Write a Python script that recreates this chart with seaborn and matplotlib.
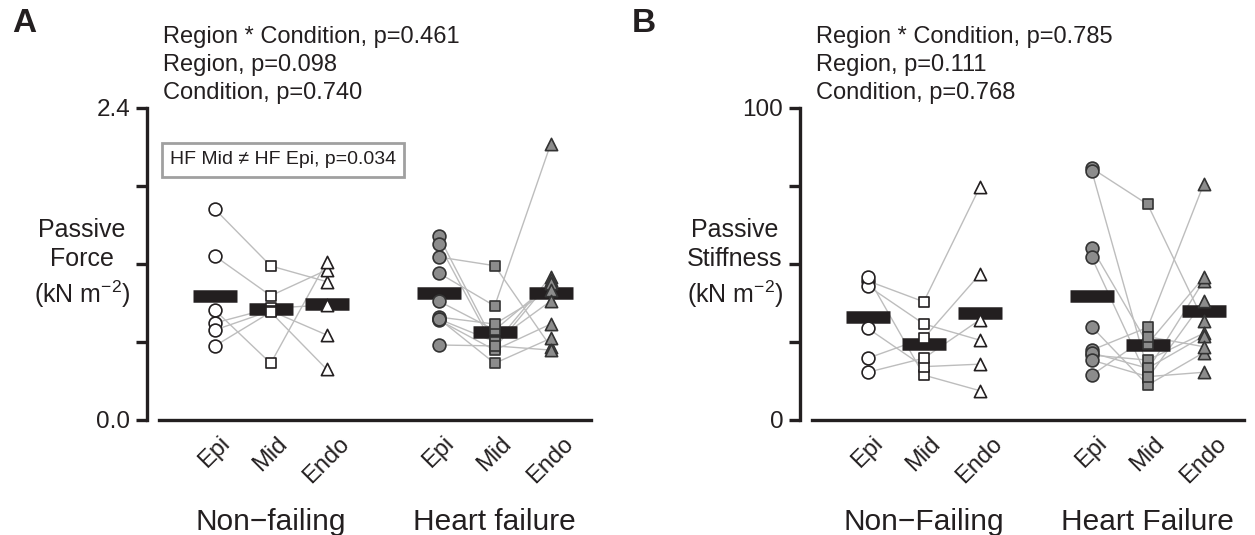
import numpy as np
import pandas as pd
import matplotlib
matplotlib.use("Agg")
import matplotlib.pyplot as plt
import seaborn as sns

# ---------------- data ----------------
regions = ["Epi", "Mid", "Endo"]
groups_A = ["Non\u2212failing", "Heart failure"]
groups_B = ["Non\u2212Failing", "Heart Failure"]

force_nf_epi = [1.623, 1.262, 0.846, 0.746, 0.692, 0.569]
force_nf_mid = [1.185, 0.956, 0.436, 0.860, 0.840, 0.830]
force_nf_endo = [1.064, 1.154, 1.218, 0.885, 0.654, 0.390]
force_hf_epi = [1.415, 1.354, 1.254, 1.131, 0.915, 0.792, 0.777, 0.769, 0.780, 0.577]
force_hf_mid = [0.585, 0.552, 1.187, 0.877, 0.692, 0.738, 0.602, 0.538, 0.436, 0.570]
force_hf_endo = [1.102, 1.077, 0.564, 2.123, 1.052, 1.000, 0.915, 0.738, 0.628, 0.538]

stiff_nf_epi = [44.6, 43.0, 45.9, 29.4, 19.8, 15.3]
stiff_nf_mid = [37.9, 30.8, 14.4, 17.1, 26.2, 19.8]
stiff_nf_endo = [74.6, 25.6, 9.4, 17.9, 46.7, 32.1]
stiff_hf_epi = [80.7, 79.9, 55.2, 52.1, 29.9, 22.4, 20.8, 21.5, 19.2, 14.4]
stiff_hf_mid = [69.1, 16.0, 24.4, 13.4, 11.2, 29.7, 19.2, 16.6, 13.9, 26.7]
stiff_hf_endo = [31.7, 44.6, 45.7, 38.2, 21.6, 75.6, 27.8, 26.9, 15.3, 23.5]

stats_A = ["Region * Condition, p=0.461", "Region, p=0.098", "Condition, p=0.740"]
stats_B = ["Region * Condition, p=0.785", "Region, p=0.111", "Condition, p=0.768"]
posthoc_A = "HF Mid \u2260 HF Epi, p=0.034"


def build(nf, hf):
    rows = []
    for ci, (cond, sets) in enumerate([("NF", nf), ("HF", hf)]):
        for ri, reg in enumerate(regions):
            for si, v in enumerate(sets[ri]):
                rows.append(dict(cond=cond, region=reg, subject=f"{cond}{si}",
                                 pos=ci * 4 + ri, value=v))
    return pd.DataFrame(rows)


df_A = build([force_nf_epi, force_nf_mid, force_nf_endo],
             [force_hf_epi, force_hf_mid, force_hf_endo])
df_B = build([stiff_nf_epi, stiff_nf_mid, stiff_nf_endo],
             [stiff_hf_epi, stiff_hf_mid, stiff_hf_endo])

# ---------------- style ----------------
sns.set_theme(style="white")
plt.rcParams["font.family"] = ["Liberation Sans", "DejaVu Sans"]
plt.rcParams["mathtext.fontset"] = "custom"
plt.rcParams["mathtext.rm"] = "Liberation Sans"
plt.rcParams["mathtext.it"] = "Liberation Sans"
INK = "#231f20"

W, H = 1255, 535
fig = plt.figure(figsize=(W / 100, H / 100), dpi=100)


def px_axes(x0, x1, ytop, ybot):
    return fig.add_axes([x0 / W, 1 - ybot / H, (x1 - x0) / W, (ybot - ytop) / H])


markers = {"Epi": "o", "Mid": "s", "Endo": "^"}
msize = {"Epi": 85, "Mid": 52, "Endo": 78}
style = {"NF": dict(fc="white", ec=INK), "HF": dict(fc="#8c8c8c", ec="#333333")}


def panel(ax, df, ymax, yticks, ylabels, ylabel, groups, stats, letter, letter_x):
    sns.lineplot(data=df, x="pos", y="value", units="subject", estimator=None,
                 sort=False, color="#bdbdbd", lw=1.0, ax=ax, legend=False, zorder=1)
    means = df.groupby("pos")["value"].mean()
    ax.hlines(means.values, means.index - 0.39, means.index + 0.39,
              color=INK, lw=9, zorder=2, capstyle="butt")
    for cond in ["NF", "HF"]:
        for reg in regions:
            sub = df[(df.cond == cond) & (df.region == reg)]
            sns.scatterplot(data=sub, x="pos", y="value", marker=markers[reg],
                            s=msize[reg], color=style[cond]["fc"],
                            edgecolor=style[cond]["ec"], linewidth=1.2,
                            ax=ax, legend=False, zorder=3, clip_on=False)
    ax.set_xlim(-1.21, 6.72)
    ax.set_ylim(0, ymax)
    for s in ["top", "right"]:
        ax.spines[s].set_visible(False)
    for s in ["left", "bottom"]:
        ax.spines[s].set_linewidth(2.4)
        ax.spines[s].set_color(INK)
    ax.spines["left"].set_bounds(0, ymax)
    ax.spines["bottom"].set_bounds(-1.0, 6.72)
    ax.set_yticks(yticks)
    ax.set_yticklabels(ylabels, fontsize=17.5, color=INK)
    ax.set_xticks([0, 1, 2, 4, 5, 6])
    ax.set_xticklabels(regions * 2, rotation=45, fontsize=17, color=INK)
    ax.tick_params(axis="y", length=8, width=2.4, color=INK, pad=4, left=True)
    ax.tick_params(axis="x", length=0, pad=9)
    ax.set_xlabel("")
    ax.set_ylabel(ylabel, rotation=0, fontsize=18, color=INK, ha="center",
                  va="center", linespacing=1.3)
    axw = ax.get_position().width * W
    ax.yaxis.set_label_coords(-65 / axw, (420 - 264) / 312)
    tr = ax.get_xaxis_transform()
    ax.text(1, -(522 - 420) / 312, groups[0], transform=tr, ha="center",
            va="center", fontsize=21.5, color=INK)
    ax.text(5, -(522 - 420) / 312, groups[1], transform=tr, ha="center",
            va="center", fontsize=21.5, color=INK)
    for i, t in enumerate(stats):
        ax.text(16 / axw, (420 - (37 + 28 * i)) / 312, t, transform=ax.transAxes,
                ha="left", va="center", fontsize=17, color=INK)
    fig.text(letter_x / W, 1 - 23 / H, letter, fontsize=24, fontweight="bold",
             ha="center", va="center", color=INK)


axA = px_axes(147, 591, 108, 420)
panel(axA, df_A, 2.4, [0, 0.6, 1.2, 1.8, 2.4], ["0.0", "", "", "", "2.4"],
      "Passive\nForce\n(kN m$^{-2}$)", groups_A, stats_A, "A", 24)
axA.text((283 - 147) / 444, (420 - 160) / 312, posthoc_A, transform=axA.transAxes,
         ha="center", va="center", fontsize=14, color=INK,
         bbox=dict(boxstyle="square,pad=0.42", fc="white", ec="#a0a0a0", lw=2))

axB = px_axes(800, 1244, 108, 420)
panel(axB, df_B, 100, [0, 25, 50, 75, 100], ["0", "", "", "", "100"],
      "Passive\nStiffness\n(kN m$^{-2}$)", groups_B, stats_B, "B", 644)

fig.savefig("out.png", dpi=100)
